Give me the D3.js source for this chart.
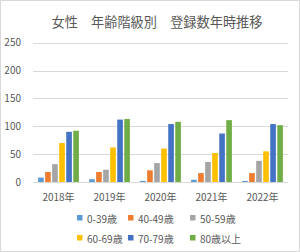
<html>
<head>
  <script src="https://d3js.org/d3.v7.min.js"></script>
  <style>
  body { margin: 0; background: #fff; }
  text { font-family: "Noto Sans CJK JP", "Noto Sans", sans-serif; fill: #595959; }
  </style>
</head>
<body>
<svg width="300" height="252"></svg>
<script>
var years = ["2018年", "2019年", "2020年", "2021年", "2022年"];
var groups = ["0-39歳", "40-49歳", "50-59歳", "60-69歳", "70-79歳", "80歳以上"];
var colors = ["#5B9BD5", "#ED7D31", "#A5A5A5", "#FFC000", "#4472C4", "#70AD47"];
var yTicks = [0, 50, 100, 150, 200, 250];

// values per age group, one entry per year
var age0_39  = [8, 5, 2, 4, 2];
var age40_49 = [18, 18, 21, 16, 16];
var age50_59 = [32, 22, 34, 36, 38];
var age60_69 = [70, 62, 60, 52, 55];
var age70_79 = [90, 112, 104, 87, 104];
var age80up  = [92, 113, 108, 111, 102];
var series = [age0_39, age40_49, age50_59, age60_69, age70_79, age80up];

var svg = d3.select("svg");

svg.append("rect").attr("x", 0.5).attr("y", 0.5).attr("width", 299).attr("height", 251)
  .attr("fill", "#fff").attr("stroke", "#d9d9d9");

svg.append("text").attr("x", 157).attr("y", 27).attr("text-anchor", "middle")
  .style("font-size", "13.2px").text("女性　年齢階級別　登録数年時推移");

var x0 = d3.scaleBand().domain(years).range([33, 288]).paddingInner(0.2).paddingOuter(0.1);
var x1 = d3.scaleBand().domain(groups).range([0, x0.bandwidth()]).paddingInner(0.2);
var y = d3.scaleLinear().domain([0, 250]).range([182, 42.7]);

svg.selectAll("line.grid").data(yTicks).enter().append("line").attr("class", "grid")
  .attr("x1", 33).attr("x2", 288)
  .attr("y1", function(d){ return Math.round(y(d)) + 0.5; })
  .attr("y2", function(d){ return Math.round(y(d)) + 0.5; })
  .attr("stroke", "#d9d9d9");

svg.selectAll("text.ytick").data(yTicks).enter().append("text").attr("class", "ytick")
  .attr("x", 21).attr("y", function(d){ return y(d) + 3.5; })
  .attr("text-anchor", "end").style("font-size", "10px").text(function(d){ return d; });

svg.selectAll("text.xtick").data(years).enter().append("text").attr("class", "xtick")
  .attr("x", function(d){ return x0(d) + x0.bandwidth() / 2; }).attr("y", 201)
  .attr("text-anchor", "middle").style("font-size", "10px").text(function(d){ return d; });

series.forEach(function(vals, s) {
  svg.selectAll("rect.s" + s).data(vals).enter().append("rect").attr("class", "s" + s)
    .attr("x", function(d, i){ return x0(years[i]) + x1(groups[s]); })
    .attr("width", x1.bandwidth())
    .attr("y", function(d){ return y(d); })
    .attr("height", function(d){ return y(0) - y(d); })
    .attr("fill", colors[s]);
});

var legX = [77, 128, 190];
var legY = [219, 239];
groups.forEach(function(g, i) {
  var lx = legX[i % 3], ly = legY[Math.floor(i / 3)];
  svg.append("rect").attr("x", lx).attr("y", ly - 4).attr("width", 5.5).attr("height", 5.5).attr("fill", colors[i]);
  svg.append("text").attr("x", lx + 10).attr("y", ly + 3.5).style("font-size", "10px").text(g);
});
</script>
</body></html>
